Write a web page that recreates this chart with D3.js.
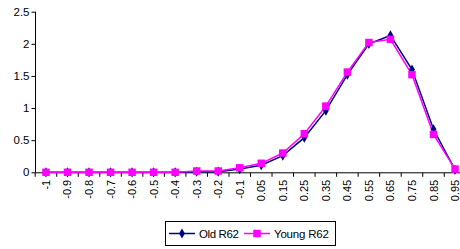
<!DOCTYPE html>
<html><head><meta charset="utf-8">
<script src="https://cdn.jsdelivr.net/npm/d3@7"></script>
<style>body{margin:0;background:#fff}svg{display:block}text{font-family:"Liberation Sans",Arial,sans-serif}</style>
</head><body><svg id="c" width="460" height="249"></svg>
<script>
const categories = ["-1","-0.9","-0.8","-0.7","-0.6","-0.5","-0.4","-0.3","-0.2","-0.1","0.05","0.15","0.25","0.35","0.45","0.55","0.65","0.75","0.85","0.95"];
const oldR62 = [0,0,0,0,0,0,0,0.01,0.01,0.05,0.11,0.26,0.54,0.96,1.52,2.0,2.13,1.6,0.67,0.04];
const youngR62 = [0,0,0,0,0,0,0,0.02,0.02,0.07,0.14,0.30,0.60,1.03,1.56,2.02,2.07,1.52,0.59,0.05];
const yTicks = [0,0.5,1,1.5,2,2.5];

const svg = d3.select("#c");
const x = d3.scaleBand().domain(categories).range([35.2,465.8]);
const y = d3.scaleLinear().domain([0,2.5]).range([172.3,11.7]);

// y axis
const ya = svg.append("g").attr("transform","translate(35.5,0)")
  .call(d3.axisLeft(y).tickValues(yTicks).tickSize(4).tickFormat(d=>String(d)));
ya.select(".domain").attr("stroke","#000").attr("d","M0,"+y(2.5)+"V"+y(0));
ya.selectAll(".tick line").attr("stroke","#000");
ya.selectAll("text").attr("font-size",11.5).attr("fill","#000").attr("x",-6);

// x axis
const xa = svg.append("g").attr("transform","translate(0,"+(y(0)+0.5)+")");
xa.append("line").attr("x1",35).attr("x2",466).attr("stroke","#000");
const bounds = categories.map(c=>x(c)).concat([x.range()[1]]);
xa.selectAll(".tk").data(bounds).enter().append("line")
  .attr("x1",d=>d).attr("x2",d=>d).attr("y1",0).attr("y2",4).attr("stroke","#000");
xa.selectAll(".lb").data(categories).enter().append("text")
  .attr("transform",d=>"translate("+(x(d)+x.bandwidth()/2+4)+",7) rotate(-90)")
  .attr("text-anchor","end").attr("font-size",11).attr("fill","#000").text(d=>d);

const cx = d=>x(d)+x.bandwidth()/2;
const line = d3.line().x((d,i)=>cx(categories[i])).y(d=>y(d));

svg.append("path").datum(oldR62).attr("d",line).attr("fill","none").attr("stroke","#000080").attr("stroke-width",1.5);
svg.append("path").datum(youngR62).attr("d",line).attr("fill","none").attr("stroke","#FF00FF").attr("stroke-width",1.5);

const diamond = d3.symbol().type(d3.symbolDiamond).size(30);
svg.selectAll(".od").data(oldR62).enter().append("path")
  .attr("d",diamond).attr("fill","#000080")
  .attr("transform",(d,i)=>"translate("+cx(categories[i])+","+y(d)+")");
svg.selectAll(".ys").data(youngR62).enter().append("rect")
  .attr("x",(d,i)=>cx(categories[i])-3.75).attr("y",d=>y(d)-3.75).attr("width",7.5).attr("height",7.5).attr("fill","#FF00FF");

// legend
const lg = svg.append("g");
lg.append("rect").attr("x",165.5).attr("y",221.5).attr("width",170).attr("height",24).attr("fill","#fff").attr("stroke","#000");
lg.append("line").attr("x1",169).attr("x2",195).attr("y1",233.5).attr("y2",233.5).attr("stroke","#000080").attr("stroke-width",1.5);
lg.append("path").attr("d",diamond).attr("fill","#000080").attr("transform","translate(182,233.5)");
lg.append("text").attr("x",199).attr("y",237.5).attr("font-size",11.5).attr("letter-spacing",-0.4).text("Old R62");
lg.append("line").attr("x1",244).attr("x2",270).attr("y1",233.5).attr("y2",233.5).attr("stroke","#FF00FF").attr("stroke-width",1.5);
lg.append("rect").attr("x",253.25).attr("y",229.75).attr("width",7.5).attr("height",7.5).attr("fill","#FF00FF");
lg.append("text").attr("x",274).attr("y",237.5).attr("font-size",11.5).attr("letter-spacing",-0.2).text("Young R62");
</script></body></html>
